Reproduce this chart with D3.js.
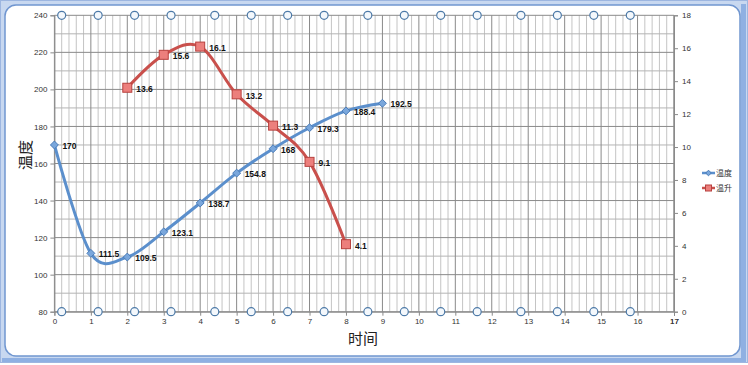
<!DOCTYPE html>
<html><head><meta charset="utf-8">
<script src="https://cdn.jsdelivr.net/npm/d3@7"></script>
<style>body{margin:0;background:#fff}svg{display:block}text{font-family:"Liberation Sans",Arial,"Noto Sans CJK SC",sans-serif}</style>
</head><body>
<script>
const tempX = [0,1,2,3,4,5,6,7,8,9];
const tempVals = [170,111.5,109.5,123.1,138.7,154.8,168,179.3,188.4,192.5];
const riseX = [2,3,4,5,6,7,8];
const riseVals = [13.6,15.6,16.1,13.2,11.3,9.1,4.1];
const xTicks = d3.range(0,18);
const leftTicks = [80,100,120,140,160,180,200,220,240];
const rightTicks = [0,2,4,6,8,10,12,14,16,18];
const circleX = [0.2,1.2,2.2,3.2,4.4,5.4,6.4,7.4,8.6,9.6,10.6,11.6,12.8,13.8,14.8,15.8];
const seriesNames = ["温度","温升"];
const xTitle = "时间", yTitle = "温度";

const W=748,H=365;
const svg=d3.select("body").append("svg").attr("width",W).attr("height",H);
// frame
svg.append("rect").attr("x",0).attr("y",0).attr("width",W).attr("height",363).attr("fill","#c8d8f0");
svg.append("rect").attr("x",0.5).attr("y",0.5).attr("width",W-1).attr("height",362).attr("fill","none").attr("stroke","#9db6e0");
svg.append("rect").attr("x",5).attr("y",5).attr("width",735).attr("height",351).attr("rx",11).attr("fill","#fff").attr("stroke","#7096d0").attr("stroke-width",1.5);
svg.append("rect").attr("x",741).attr("y",4).attr("width",5).attr("height",355).attr("fill","#8fb0e2");
svg.append("rect").attr("x",2).attr("y",358).attr("width",744).attr("height",4).attr("fill","#8fb0e2");

const x=d3.scaleLinear().domain([0,17]).range([54.4,674]);
const yL=d3.scaleLinear().domain([80,240]).range([311.7,15.3]);
const yR=d3.scaleLinear().domain([0,18]).range([311.7,15.3]);

const g=svg.append("g");
// minor vertical grid
const minorX=d3.range(0,17.01,0.2).map(v=>+v.toFixed(1)).filter(v=>Math.abs(v-Math.round(v))>1e-6);
g.selectAll(".mvx").data(minorX).enter().append("line")
 .attr("x1",d=>x(d)).attr("x2",d=>x(d)).attr("y1",yL(240)).attr("y2",yL(80)).attr("stroke","#c4c4c4").attr("stroke-width",1);
// minor horizontal
const minorY=d3.range(90,240,20);
g.selectAll(".mhy").data(minorY).enter().append("line")
 .attr("x1",x(0)).attr("x2",x(17)).attr("y1",d=>yL(d)).attr("y2",d=>yL(d)).attr("stroke","#b4b4b4");
// major
g.selectAll(".Mvx").data(xTicks.concat([17])).enter().append("line")
 .attr("x1",d=>x(d)).attr("x2",d=>x(d)).attr("y1",yL(240)).attr("y2",yL(80)).attr("stroke","#8a8a8a");
g.selectAll(".Mhy").data(leftTicks).enter().append("line")
 .attr("x1",x(0)).attr("x2",x(17)).attr("y1",d=>yL(d)).attr("y2",d=>yL(d)).attr("stroke","#8a8a8a");

// axes
const axL=d3.axisLeft(yL).tickValues(leftTicks).tickSize(4).tickPadding(3);
const axR=d3.axisRight(yR).tickValues(rightTicks).tickSize(4).tickPadding(4);
const axB=d3.axisBottom(x).tickValues(xTicks.concat([17])).tickSize(4).tickPadding(3);
function styleAx(s){s.select(".domain").attr("stroke","#8a8a8a");s.selectAll(".tick line").attr("stroke","#8a8a8a");s.selectAll("text").attr("fill","#333").style("font-size","8px");}
svg.append("g").attr("transform",`translate(${x(0)},0)`).call(axL).call(styleAx);
svg.append("g").attr("transform",`translate(${x(17)},0)`).call(axR).call(styleAx);
svg.append("g").attr("transform",`translate(0,${yL(80)})`).call(axB).call(styleAx);

// circles top & bottom
[240,80].forEach(v=>{
 svg.append("g").selectAll("circle").data(circleX).enter().append("circle")
  .attr("cx",d=>x(d)).attr("cy",yL(v)).attr("r",4).attr("fill","#f4f8fc").attr("stroke","#4d7aa8").attr("stroke-width",1.2);
});

const curve=d3.curveCardinal.tension(0);
const blue="#5b8fcc", red="#c9504c";
const tData=tempX.map((d,i)=>[d,tempVals[i]]);
const rData=riseX.map((d,i)=>[d,riseVals[i]]);
svg.append("path").attr("d",d3.line().x(d=>x(d[0])).y(d=>yL(d[1])).curve(curve)(tData))
 .attr("fill","none").attr("stroke",blue).attr("stroke-width",3);
svg.append("path").attr("d",d3.line().x(d=>x(d[0])).y(d=>yR(d[1])).curve(curve)(rData))
 .attr("fill","none").attr("stroke",red).attr("stroke-width",3);

// markers
svg.append("g").selectAll("path").data(tData).enter().append("path")
 .attr("d",d3.symbol(d3.symbolDiamond2,40)).attr("transform",d=>`translate(${x(d[0])},${yL(d[1])})`)
 .attr("fill","#7aa7dc").attr("stroke","#4a7cb8").attr("stroke-width",1);
svg.append("g").selectAll("rect").data(rData).enter().append("rect")
 .attr("x",d=>x(d[0])-4.5).attr("y",d=>yR(d[1])-4.5).attr("width",9).attr("height",9)
 .attr("fill","#ec7f7c").attr("stroke","#b8413e").attr("stroke-width",1);

// labels
svg.append("g").selectAll("text").data(tData).enter().append("text")
 .attr("x",d=>x(d[0])+8).attr("y",d=>yL(d[1])+4).text(d=>d[1])
 .style("font-size","8.5px").style("font-weight","bold").attr("fill","#111");
svg.append("g").selectAll("text").data(rData).enter().append("text")
 .attr("x",d=>x(d[0])+9).attr("y",d=>yR(d[1])+4.5).text(d=>d[1])
 .style("font-size","8.5px").style("font-weight","bold").attr("fill","#111");

// titles
svg.append("text").attr("x",363).attr("y",344).attr("text-anchor","middle").text(xTitle)
 .style("font-size","15px").style("font-family","Noto Sans CJK SC").attr("fill","#222");
svg.append("text").attr("transform","translate(31,155) rotate(-90)").attr("text-anchor","middle").text(yTitle)
 .style("font-size","15px").style("font-family","Noto Sans CJK SC").attr("fill","#222");

// legend
const lg=svg.append("g");
[[blue,"#7aa7dc","#4a7cb8",173],[red,"#ec7f7c","#b8413e",188]].forEach((c,i)=>{
 lg.append("line").attr("x1",702).attr("x2",715).attr("y1",c[3]).attr("y2",c[3]).attr("stroke",c[0]).attr("stroke-width",2.5);
 if(i==0) lg.append("path").attr("d",d3.symbol(d3.symbolDiamond2,20)).attr("transform",`translate(708.5,${c[3]})`).attr("fill",c[1]).attr("stroke",c[2]);
 else lg.append("rect").attr("x",705.5).attr("y",c[3]-3).attr("width",6).attr("height",6).attr("fill",c[1]).attr("stroke",c[2]);
 lg.append("text").attr("x",716).attr("y",c[3]+3).text(seriesNames[i]).style("font-size","8px").attr("fill","#333");
});
</script>
</body></html>
